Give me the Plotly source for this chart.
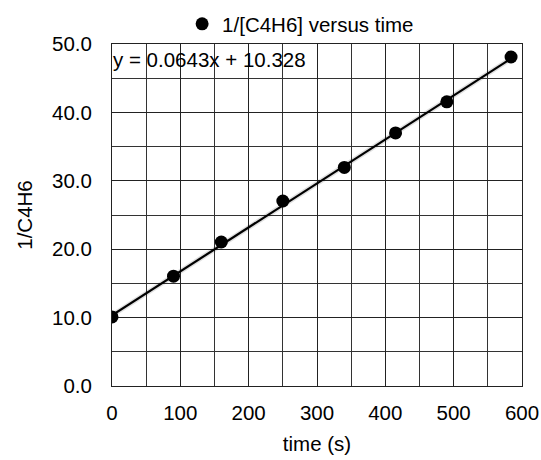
import plotly.graph_objects as go

# Measured reciprocal concentration of butadiene over time
time_s = [0, 90, 160, 250, 340, 415, 490, 584]
inv_c4h6 = [10.1, 16.05, 21.05, 27.05, 31.95, 37.0, 41.55, 48.1]

# Linear fit reported for the data
slope = 0.0643
intercept = 10.328
fit_label = "y = 0.0643x + 10.328"

x_ticks = [0, 100, 200, 300, 400, 500, 600]
y_ticks = [0, 10, 20, 30, 40, 50]

FONT = "Liberation Sans, Arial, Helvetica, sans-serif"
FS = 20.5

fit_x = [min(time_s), max(time_s)]
fit_y = [slope * t + intercept for t in fit_x]

fig = go.Figure()
# soft shadow under the trendline
fig.add_trace(go.Scatter(
    x=fit_x, y=fit_y, mode="lines",
    line=dict(color="rgba(0,0,0,0.12)", width=5),
    showlegend=False, hoverinfo="skip",
))
fig.add_trace(go.Scatter(
    x=fit_x, y=fit_y, mode="lines",
    line=dict(color="black", width=2.2),
    showlegend=False, hoverinfo="skip",
))
fig.add_trace(go.Scatter(
    x=time_s, y=inv_c4h6, mode="markers",
    marker=dict(color="black", size=13, symbol="circle"),
    name="1/[C4H6] versus time",
))

fig.add_annotation(
    x=0, xref="paper", xanchor="left",
    y=50, yref="y", yanchor="top", yshift=-3,
    text=fit_label, showarrow=False,
    font=dict(family=FONT, size=FS, color="black"),
    borderpad=0,
)

axis_common = dict(
    showline=True, linecolor="#222", linewidth=1, mirror=True,
    showgrid=True, gridcolor="#222", gridwidth=1,
    zeroline=False, ticks="",
    automargin=False,
    tickfont=dict(family=FONT, size=FS, color="black"),
)

fig.update_xaxes(
    range=[0, 600], tickvals=x_ticks,
    ticktext=[str(v) for v in x_ticks],
    ticklabelstandoff=8,
    minor=dict(dtick=50, showgrid=True, gridcolor="#333", gridwidth=1),
    title=dict(text="time (s)", font=dict(family=FONT, size=FS, color="black"), standoff=14),
    **axis_common,
)
fig.update_yaxes(
    range=[0, 50], tickvals=y_ticks,
    ticktext=[f"{v:.1f}" for v in y_ticks],
    ticklabelstandoff=15,
    minor=dict(dtick=5, showgrid=True, gridcolor="#333", gridwidth=1),
    title=dict(text="1/C4H6", font=dict(family=FONT, size=FS, color="black"), standoff=13),
    **axis_common,
)

fig.update_layout(
    width=541, height=460,
    margin=dict(l=112, r=19, t=44, b=74, autoexpand=False),
    paper_bgcolor="white", plot_bgcolor="white",
    font=dict(family=FONT, size=FS, color="black"),
    legend=dict(
        orientation="h", x=0.171, xanchor="left",
        y=1.0, yanchor="bottom", yref="paper",
        font=dict(family=FONT, size=FS, color="black"),
        bgcolor="rgba(0,0,0,0)",
    ),
    showlegend=True,
)

fig.write_html("out.html")
